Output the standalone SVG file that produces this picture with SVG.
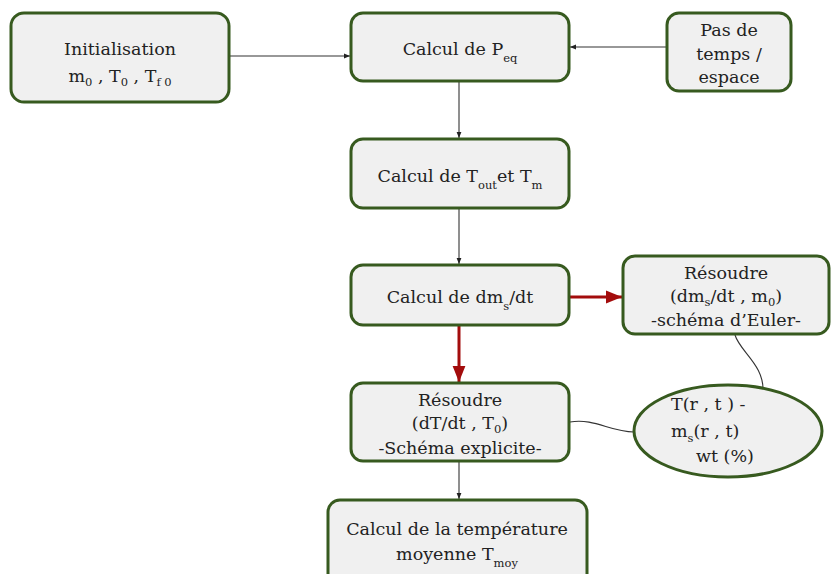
<svg xmlns="http://www.w3.org/2000/svg" width="831" height="574" viewBox="0 0 831 574">
  <style>
    .box { fill: #f0f0f0; stroke: #375a1f; stroke-width: 3; }
    .lbl { font-family: "DejaVu Serif", "Liberation Serif", serif; font-size: 17.5px; fill: #222; }
    .c { text-anchor: middle; }
    .sub { font-size: 11.5px; }
    .thin { fill: none; stroke: #333; stroke-width: 1.1; }
    .red { fill: none; stroke: #a30c0c; stroke-width: 3; }
  </style>
  <defs>
    <marker id="arrowSmall" viewBox="0 0 10 10" refX="10" refY="5" markerWidth="6" markerHeight="6" orient="auto" markerUnits="userSpaceOnUse">
      <path d="M0,1 L10,5 L0,9 z" fill="#222"/>
    </marker>
    <marker id="arrowRed" viewBox="0 0 10 10" refX="10" refY="5" markerWidth="16" markerHeight="16" orient="auto" markerUnits="userSpaceOnUse">
      <path d="M0,1 L10,5 L0,9 z" fill="#a30c0c"/>
    </marker>
  </defs>

  <!-- connectors -->
  <g id="connectors">
    <line class="thin" x1="230" y1="56" x2="350" y2="56" marker-end="url(#arrowSmall)"/>
    <line class="thin" x1="667" y1="47" x2="570" y2="47" marker-end="url(#arrowSmall)"/>
    <line class="thin" x1="459" y1="82" x2="459" y2="138" marker-end="url(#arrowSmall)"/>
    <line class="thin" x1="459" y1="209" x2="459" y2="264" marker-end="url(#arrowSmall)"/>
    <line class="red" x1="570" y1="297" x2="622" y2="297" marker-end="url(#arrowRed)"/>
    <line class="red" x1="459" y1="326" x2="459" y2="382" marker-end="url(#arrowRed)"/>
    <line class="thin" x1="459" y1="462" x2="459" y2="499" marker-end="url(#arrowSmall)"/>
    <path class="thin" d="M735,335 C740,352 765,365 763,393"/>
    <path class="thin" d="M570,422 C595,418 610,432 634,432"/>
  </g>

  <g id="init">
    <rect class="box" x="11" y="13" width="218" height="89" rx="13"/>
    <text class="lbl c" x="120" y="55">Initialisation</text>
    <text class="lbl c" x="120" y="82">m<tspan class="sub" dy="4">0</tspan><tspan dy="-4"> , T</tspan><tspan class="sub" dy="4">0</tspan><tspan dy="-4"> , T</tspan><tspan class="sub" dy="4">f 0</tspan></text>
  </g>

  <g id="peq">
    <rect class="box" x="351" y="13" width="218" height="68" rx="12"/>
    <text class="lbl c" x="460" y="55">Calcul de P<tspan class="sub" dy="7">eq</tspan></text>
  </g>

  <g id="pas">
    <rect class="box" x="667" y="13" width="124" height="78" rx="12"/>
    <text class="lbl c" x="729" y="36">Pas de</text>
    <text class="lbl c" x="729" y="60">temps /</text>
    <text class="lbl c" x="729" y="83">espace</text>
  </g>

  <g id="tout">
    <rect class="box" x="351" y="139" width="218" height="69" rx="12"/>
    <text class="lbl c" x="460" y="182">Calcul de T<tspan class="sub" dy="7">out</tspan><tspan dy="-7">et T</tspan><tspan class="sub" dy="7">m</tspan></text>
  </g>

  <g id="dms">
    <rect class="box" x="351" y="265" width="218" height="60" rx="12"/>
    <text class="lbl c" x="460" y="303">Calcul de dm<tspan class="sub" dy="7">s</tspan><tspan dy="-7">/dt</tspan></text>
  </g>

  <g id="euler">
    <rect class="box" x="623" y="256" width="206" height="78" rx="12"/>
    <text class="lbl c" x="726" y="279">Résoudre</text>
    <text class="lbl c" x="726" y="302">(dm<tspan class="sub" dy="4">s</tspan><tspan dy="-4">/dt , m</tspan><tspan class="sub" dy="4">0</tspan><tspan dy="-4">)</tspan></text>
    <text class="lbl c" x="726" y="326">-schéma d’Euler-</text>
  </g>

  <g id="dT">
    <rect class="box" x="351" y="383" width="218" height="78" rx="12"/>
    <text class="lbl c" x="460" y="406">Résoudre</text>
    <text class="lbl c" x="460" y="429">(dT/dt , T<tspan class="sub" dy="4">0</tspan><tspan dy="-4">)</tspan></text>
    <text class="lbl c" x="460" y="454">-Schéma explicite-</text>
  </g>

  <g id="result">
    <ellipse class="box" cx="728" cy="431" rx="94" ry="46"/>
    <text class="lbl" x="671" y="410">T(r , t )  -</text>
    <text class="lbl" x="671" y="437">m<tspan class="sub" dy="5">s</tspan><tspan dy="-5">(r , t)</tspan></text>
    <text class="lbl" x="696" y="462">wt (%)</text>
  </g>

  <g id="tmoy">
    <rect class="box" x="328" y="500" width="259" height="90" rx="12"/>
    <text class="lbl c" x="457" y="535">Calcul de la température</text>
    <text class="lbl c" x="457" y="560">moyenne T<tspan class="sub" dy="7">moy</tspan></text>
  </g>
</svg>
